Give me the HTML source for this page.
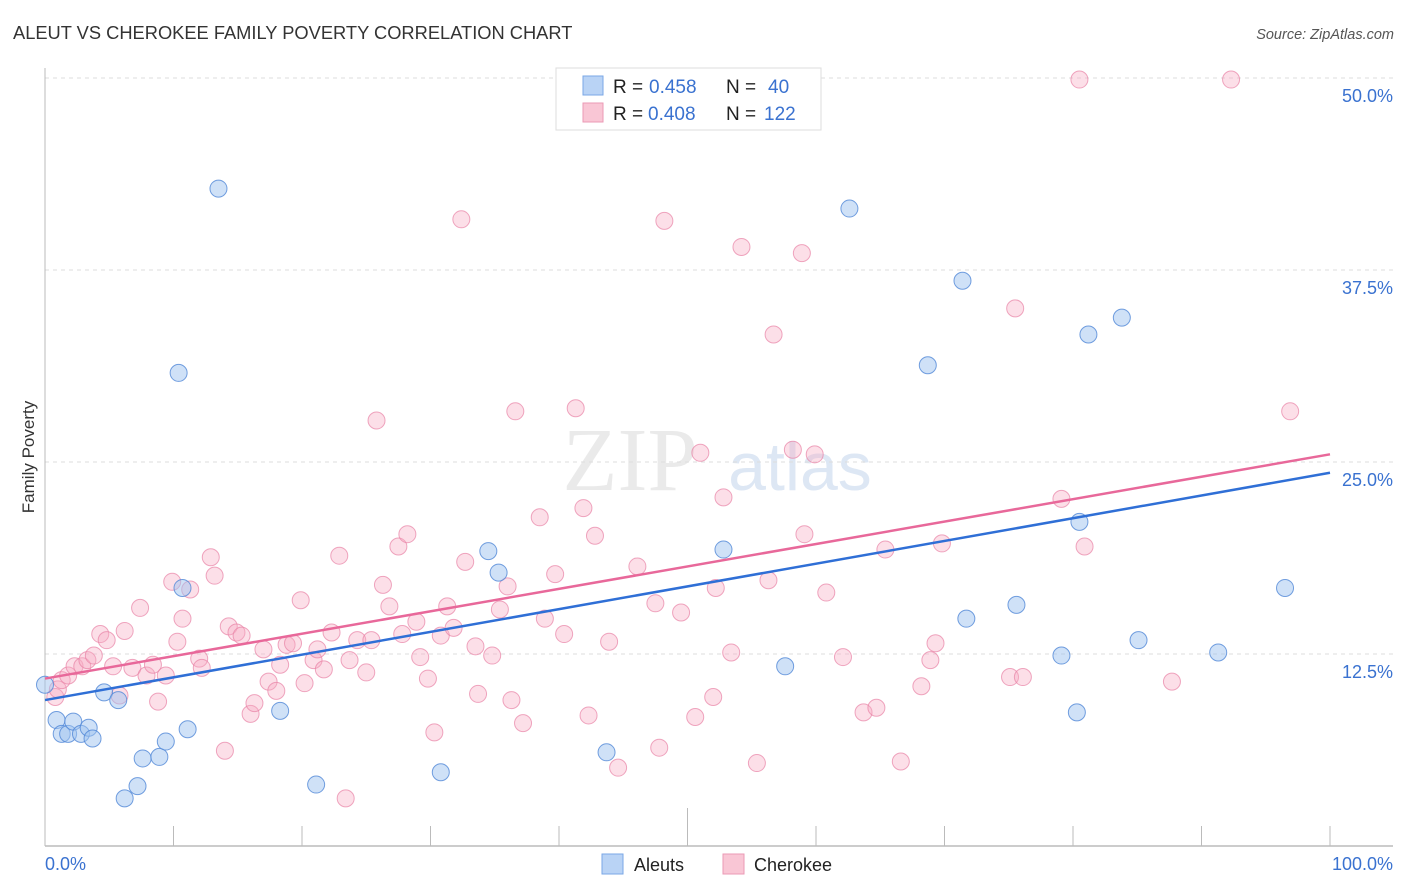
<!DOCTYPE html>
<html><head><meta charset="utf-8"><style>
body{margin:0;background:#fff;font-family:"Liberation Sans",sans-serif;}
svg{display:block}
</style></head><body>
<svg id="chart" width="1406" height="892">
<text x="13" y="39" font-size="18.3" fill="#333">ALEUT VS CHEROKEE FAMILY POVERTY CORRELATION CHART</text>
<text x="1394" y="39" font-size="14.5" fill="#555" font-style="italic" text-anchor="end">Source: ZipAtlas.com</text>
<text x="34" y="457" font-size="17" fill="#333" text-anchor="middle" transform="rotate(-90 34 457)">Family Poverty</text>
<g>
<text x="630" y="490" font-size="90" fill="#e2e2e2" font-family="Liberation Serif,serif" text-anchor="middle" opacity="0.7">ZIP</text>
<text x="800" y="490" font-size="68" fill="#d0ddf0" text-anchor="middle" opacity="0.7">atlas</text>
</g>
<g id="grid"></g>
<g id="axes"></g>
<g id="points"></g>
<g id="trends"></g>
<g>
<rect x="556" y="68" width="265" height="62" fill="#fff" stroke="#ddd"/>
<rect x="583" y="76" width="20" height="19" fill="#b9d3f5" stroke="#7aa7e6"/>
<rect x="583" y="103" width="20" height="19" fill="#f9c6d5" stroke="#eb9ab5"/>
<text y="93" font-size="19"><tspan x="613" fill="#222">R = </tspan><tspan x="649" fill="#3a72d0">0.458</tspan><tspan x="726" fill="#222">N = </tspan><tspan x="768" fill="#3a72d0">40</tspan></text>
<text y="120" font-size="19"><tspan x="613" fill="#222">R = </tspan><tspan x="648" fill="#3a72d0">0.408</tspan><tspan x="726" fill="#222">N = </tspan><tspan x="764" fill="#3a72d0">122</tspan></text>
</g>
<g>
<rect x="602" y="854" width="21" height="20" fill="#b9d3f5" stroke="#7aa7e6"/>
<text x="634" y="871" font-size="18" fill="#222">Aleuts</text>
<rect x="723" y="854" width="21" height="20" fill="#f9c6d5" stroke="#eb9ab5"/>
<text x="754" y="871" font-size="18" fill="#222">Cherokee</text>
</g>
</svg>
<script>
const aleutX=[0.0,0.9,1.3,1.8,2.2,2.8,3.4,3.7,4.6,5.7,6.2,7.2,7.6,8.9,9.4,11.1,10.4,10.7,13.5,18.3,21.1,30.8,34.5,35.3,43.7,52.8,57.6,62.6,68.7,71.4,71.7,75.6,79.1,80.3,80.5,81.2,83.8,85.1,91.3,96.5];
const aleutY=[10.5,8.2,7.3,7.3,8.1,7.3,7.7,7.0,10.0,9.5,3.1,3.9,5.7,5.8,6.8,7.6,30.8,16.8,42.8,8.8,4.0,4.8,19.2,17.8,6.1,19.3,11.7,41.5,31.3,36.8,14.8,15.7,12.4,8.7,21.1,33.3,34.4,13.4,12.6,16.8];
const cheroX=[0.8,1.0,1.3,1.8,2.3,2.9,3.3,3.8,4.3,4.8,5.3,5.8,6.2,6.8,7.4,7.9,8.4,8.8,9.4,9.9,10.3,10.7,11.3,12.0,12.2,12.9,13.2,14.0,14.3,14.9,15.3,16.0,16.3,17.0,17.4,18.0,18.3,18.8,19.3,19.9,20.2,20.9,21.2,21.7,22.3,22.9,23.4,23.7,24.3,25.0,25.4,25.8,26.3,26.8,27.5,27.8,28.2,28.9,29.2,29.8,30.3,30.8,31.3,31.8,32.4,32.7,33.5,33.7,34.8,35.4,36.0,36.3,36.6,37.2,38.5,38.9,39.7,40.4,41.3,41.9,42.3,42.8,43.9,44.6,46.1,47.5,47.8,48.2,49.5,50.6,51.0,52.0,52.2,52.8,53.4,54.2,55.4,56.3,56.7,58.2,58.9,59.1,59.9,60.8,62.1,63.7,64.7,65.4,66.6,68.2,68.9,69.3,69.8,75.1,75.5,76.1,79.1,80.5,80.9,87.7,92.3,96.9];
const cheroY=[9.7,10.2,10.8,11.1,11.7,11.7,12.1,12.4,13.8,13.4,11.7,9.8,14.0,11.6,15.5,11.1,11.8,9.4,11.1,17.2,13.3,14.8,16.7,12.2,11.6,18.8,17.6,6.2,14.3,13.9,13.7,8.6,9.3,12.8,10.7,10.1,11.8,13.1,13.2,16.0,10.6,12.1,12.8,11.5,13.9,18.9,3.1,12.1,13.4,11.3,13.4,27.7,17.0,15.6,19.5,13.8,20.3,14.6,12.3,10.9,7.4,13.7,15.6,14.2,40.8,18.5,13.0,9.9,12.4,15.4,16.9,9.5,28.3,8.0,21.4,14.8,17.7,13.8,28.5,22.0,8.5,20.2,13.3,5.1,18.2,15.8,6.4,40.7,15.2,8.4,25.6,9.7,16.8,22.7,12.6,39.0,5.4,17.3,33.3,25.8,38.6,20.3,25.5,16.5,12.3,8.7,9.0,19.3,5.5,10.4,12.1,13.2,19.7,11.0,35.0,11.0,22.6,49.9,19.5,10.7,49.9,28.3];
const aleutTrend=[9.5,24.3];
const cheroTrend=[10.9,25.5];
const yTicks=[12.5,25.0,37.5,50.0];
const yTickLabels=["12.5%","25.0%","37.5%","50.0%"];
const xTickLabels=["0.0%","100.0%"];
const NS="http://www.w3.org/2000/svg";
const X0=45,X1=1330,Y0=846,PPY=15.36;
const sx=v=>X0+(X1-X0)*v/100;
const sy=v=>Y0-v*PPY;
function mk(tag,attrs,parent){const e=document.createElementNS(NS,tag);for(const k in attrs)e.setAttribute(k,attrs[k]);document.getElementById(parent).appendChild(e);return e;}
yTicks.forEach((t,i)=>{
  const l=mk('line',{x1:X0,x2:1393,y1:sy(t),y2:sy(t),stroke:'#ddd','stroke-dasharray':'4,4'},'grid');
  
  
  const tx=mk('text',{x:1393,y:sy(t)+24,'font-size':18,fill:'#3a72d0','text-anchor':'end'},'axes');
  tx.textContent=yTickLabels[i];
  
  
});
let ax=mk('line',{x1:X0,x2:X0,y1:68,y2:Y0,stroke:'#bbb'},'axes');


ax=mk('line',{x1:X0,x2:1393,y1:Y0,y2:Y0,stroke:'#bbb','stroke-width':1.5},'axes');


for(let i=1;i<=10;i++){
  const tk=mk('line',{x1:sx(i*10),x2:sx(i*10),y1:i==5?808:826,y2:Y0,stroke:'#bbb'},'axes');
  
  
}
let xl=mk('text',{x:X0,y:870,'font-size':18,fill:'#3a72d0'},'axes');xl.textContent=xTickLabels[0];


xl=mk('text',{x:1393,y:870,'font-size':18,fill:'#3a72d0','text-anchor':'end'},'axes');xl.textContent=xTickLabels[1];


function pts(xs,ys,fill,stroke,name){
  xs.forEach((x,i)=>{
    const c=mk('circle',{cx:sx(x),cy:sy(ys[i]),r:8.5,fill:fill,stroke:stroke,'stroke-width':1},'points');
    
    
  });
}
pts(cheroX,cheroY,'rgba(246,170,195,0.38)','rgba(232,130,165,0.7)','cherokee-point');
pts(aleutX,aleutY,'rgba(160,196,240,0.5)','rgba(80,135,215,0.8)','aleut-point');
let tl=mk('line',{x1:sx(0),y1:sy(aleutTrend[0]),x2:sx(100),y2:sy(aleutTrend[1]),stroke:'#2f6fd6','stroke-width':2.5},'trends');


tl=mk('line',{x1:sx(0),y1:sy(cheroTrend[0]),x2:sx(100),y2:sy(cheroTrend[1]),stroke:'#e8689a','stroke-width':2.5},'trends');


</script>
</body></html>
